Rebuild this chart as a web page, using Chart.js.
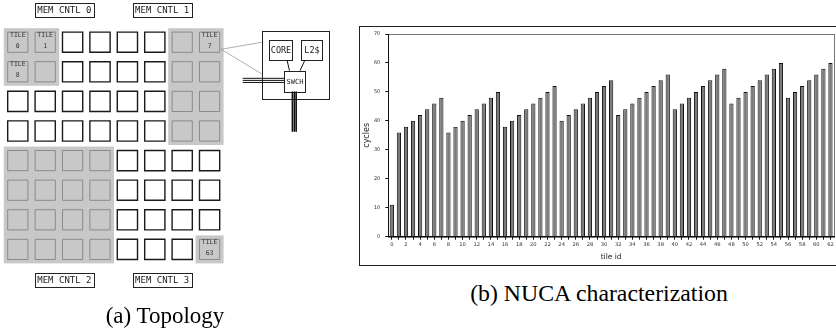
<!DOCTYPE html>
<html>
<head>
<meta charset="utf-8">
<script src="https://cdn.jsdelivr.net/npm/chart.js@4.4.1/dist/chart.umd.min.js"></script>
<style>
  html, body { margin: 0; padding: 0; background: #fff; width: 836px; height: 334px; overflow: hidden; }
  #frameB { position: absolute; left: 359px; top: 26px; width: 520px; height: 238px; border: 1px solid #222; }
  .caption { position: absolute; font-family: "Liberation Serif", serif; font-size: 23px; line-height: 23px; color: #000; text-align: center; white-space: nowrap; }
</style>
</head>
<body>
<canvas id="topology" width="340" height="334" style="position:absolute;left:0;top:0"></canvas>
<div id="frameB"></div>
<canvas id="nuca" width="477" height="239" style="position:absolute;left:359px;top:26px"></canvas>
<div class="caption" style="left:65px;top:304px;width:200px">(a) Topology</div>
<div class="caption" style="left:449px;top:282px;width:300px;font-size:23.8px">(b) NUCA characterization</div>
<script>
// ─── (b) NUCA characterization data ───────────────────────────
const tileIds = [
     0,  1,  2,  3,  4,  5,  6,  7,  8,  9, 10, 11, 12, 13, 14, 15,
    16, 17, 18, 19, 20, 21, 22, 23, 24, 25, 26, 27, 28, 29, 30, 31,
    32, 33, 34, 35, 36, 37, 38, 39, 40, 41, 42, 43, 44, 45, 46, 47,
    48, 49, 50, 51, 52, 53, 54, 55, 56, 57, 58, 59, 60, 61, 62
];
const cycles = [
    11, 36, 38, 40, 42, 44, 46, 48,
    36, 38, 40, 42, 44, 46, 48, 50,
    38, 40, 42, 44, 46, 48, 50, 52,
    40, 42, 44, 46, 48, 50, 52, 54,
    42, 44, 46, 48, 50, 52, 54, 56,
    44, 46, 48, 50, 52, 54, 56, 58,
    46, 48, 50, 52, 54, 56, 58, 60,
    48, 50, 52, 54, 56, 58, 60
];
const yTicks = [0, 10, 20, 30, 40, 50, 60, 70];

// ─── (a) Topology data (grid units: column / row) ─────────────
const gridCols     = [0, 1, 2, 3, 4, 5, 6, 7];
const gridRows     = [0, 1, 2, 3, 4, 5, 6, 7];
const shadedTiles  = [0, 1, 8, 9,
                      6, 7, 14, 15, 22, 23, 30, 31,
                      32, 33, 34, 35, 40, 41, 42, 43, 48, 49, 50, 51, 56, 57, 58, 59,
                      63];
const labelledTiles = [0, 1, 7, 8, 63];
// shaded groups: [firstCol, lastCol, firstRow, lastRow]
const shadedBlocks = [[0, 1, 0, 1], [6, 7, 0, 3], [0, 3, 4, 7], [7, 7, 7, 7]];

const memCtrlNames = ['MEM CNTL 0', 'MEM CNTL 1', 'MEM CNTL 2', 'MEM CNTL 3'];
const memCtrlCols  = [1.70, 5.27, 1.70, 5.27];
const memCtrlRows  = [-1.07, -1.07, 8.05, 8.05];

// tile detail: [label, colStart, colEnd, rowStart, rowEnd]
const detailParts = [
    ['',     8.90, 11.36, -0.378, 1.92],
    ['CORE', 9.18, 10.01, -0.074, 0.601],
    ['L2$', 10.32, 11.09, -0.074, 0.601],
    ['SWCH', 9.72, 10.49,  0.963, 1.672]
];
const wires = [
    [[8.21, 1.220], [9.72, 1.220]],
    [[8.21, 1.290], [9.72, 1.290]],
    [[8.21, 1.360], [9.72, 1.360]],
    [[10.02, 1.672], [10.02, 3.02]],
    [[10.09, 1.672], [10.09, 3.02]],
    [[10.16, 1.672], [10.16, 3.02]],
    [[9.825, 0.601], [9.916, 0.963]],
    [[10.48, 0.601], [10.30, 0.963]]
];
const leaders = [
    [[7.42, 0.24], [8.90, 0.003]],
    [[7.42, 0.24], [8.90, 1.07]]
];

const MONO = '"DejaVu Sans Mono", monospace';
const SANS = '"DejaVu Sans", sans-serif';

// ─── Topology chart ───────────────────────────────────────────
const tilePoints = [];
gridRows.forEach(r => gridCols.forEach(c => tilePoints.push({ x: c, y: r, id: r * 8 + c })));

const TILE_HALF = 10.5;   // px
const BLOCK_PAD = 3.5;    // px

const topologyPlugin = {
    id: 'topologyBoxes',
    beforeDatasetsDraw(chart) {
        const { ctx, scales: { x, y } } = chart;
        ctx.save();
        // shaded groups
        ctx.fillStyle = '#c8c8c8';
        shadedBlocks.forEach(([c0, c1, r0, r1]) => {
            const l = x.getPixelForValue(c0) - TILE_HALF - BLOCK_PAD;
            const r = x.getPixelForValue(c1) + TILE_HALF + BLOCK_PAD;
            const t = y.getPixelForValue(r0) - TILE_HALF - BLOCK_PAD;
            const b = y.getPixelForValue(r1) + TILE_HALF + BLOCK_PAD;
            ctx.fillRect(l, t, r - l, b - t);
        });
        // memory controllers
        ctx.lineWidth = 1;
        ctx.strokeStyle = '#222';
        ctx.font = '9px ' + MONO;
        ctx.textAlign = 'center';
        ctx.textBaseline = 'middle';
        memCtrlNames.forEach((name, i) => {
            const cx = x.getPixelForValue(memCtrlCols[i]);
            const cy = y.getPixelForValue(memCtrlRows[i]);
            ctx.fillStyle = '#fff';
            ctx.fillRect(cx - 29.5, cy - 7.2, 59, 14.4);
            ctx.strokeRect(Math.round(cx - 29.5) + 0.5, Math.round(cy - 7.2) + 0.5, 59, 14);
            ctx.fillStyle = '#222';
            ctx.fillText(name, cx, cy + 0.5);
        });
        // tile detail
        detailParts.forEach(([label, c0, c1, r0, r1]) => {
            const l = Math.round(x.getPixelForValue(c0)) + 0.5;
            const r = Math.round(x.getPixelForValue(c1)) + 0.5;
            const t = Math.round(y.getPixelForValue(r0)) + 0.5;
            const b = Math.round(y.getPixelForValue(r1)) + 0.5;
            ctx.fillStyle = '#fff';
            ctx.fillRect(l, t, r - l, b - t);
            ctx.strokeRect(l, t, r - l, b - t);
            if (label) {
                ctx.fillStyle = '#222';
                ctx.font = (label === 'SWCH' ? '7px ' : '8.5px ') + MONO;
                ctx.fillText(label, (l + r) / 2, (t + b) / 2 + 0.5);
            }
        });
        ctx.restore();
    },
    afterDatasetsDraw(chart) {
        const { ctx, scales: { x, y } } = chart;
        ctx.save();
        ctx.fillStyle = '#333';
        ctx.textAlign = 'center';
        ctx.textBaseline = 'middle';
        ctx.font = '6.5px ' + MONO;
        labelledTiles.forEach(id => {
            const cx = x.getPixelForValue(id % 8);
            const cy = y.getPixelForValue(Math.floor(id / 8));
            ctx.fillText('TILE', cx, cy - 7);
            ctx.fillText(String(id), cx, cy + 3.8);
        });
        ctx.restore();
    }
};

const lineSet = (seg, color, width) => ({
    data: seg.map(([px, py]) => ({ x: px, y: py })),
    showLine: true,
    borderColor: color,
    borderWidth: width,
    pointRadius: 0
});

new Chart(document.getElementById('topology').getContext('2d'), {
    type: 'scatter',
    data: {
        datasets: [
            {
                data: tilePoints,
                pointStyle: 'rect',
                pointRadius: 14.3,
                pointBorderWidth: c => shadedTiles.includes(c.raw.id) ? 1 : 1.4,
                pointBorderColor: c => shadedTiles.includes(c.raw.id) ? '#8a8a8a' : '#1a1a1a',
                pointBackgroundColor: c => shadedTiles.includes(c.raw.id) ? '#c8c8c8' : '#fff'
            },
            ...wires.map(s => lineSet(s, '#111', 1)),
            ...leaders.map(s => lineSet(s, '#999', 0.8))
        ]
    },
    options: {
        responsive: false,
        animation: false,
        events: [],
        layout: { padding: 0, autoPadding: false },
        plugins: { legend: { display: false }, tooltip: { enabled: false } },
        scales: {
            x: { type: 'linear', display: false, min: -0.6496, max: 11.759 },
            y: { type: 'linear', display: false, min: -1.4257, max: 9.858, reverse: true }
        }
    },
    plugins: [topologyPlugin]
});

// ─── NUCA bar chart ───────────────────────────────────────────
const plotFrame = {
    id: 'plotFrame',
    beforeDraw(chart) {
        const { ctx, chartArea: a } = chart;
        ctx.save();
        ctx.strokeStyle = '#777';
        ctx.lineWidth = 1;
        ctx.strokeRect(Math.round(a.left) + 0.5, Math.round(a.top) + 0.5,
                       Math.round(a.right - a.left), Math.round(a.bottom - a.top));
        ctx.restore();
    }
};

new Chart(document.getElementById('nuca').getContext('2d'), {
    type: 'bar',
    data: {
        labels: tileIds,
        datasets: [{
            data: cycles,
            backgroundColor: '#7a7a7a',
            borderColor: '#111',
            borderWidth: 1,
            barPercentage: 0.6,
            categoryPercentage: 1
        }]
    },
    options: {
        responsive: false,
        animation: false,
        events: [],
        layout: { padding: { top: 7.3, right: 2, left: 0, bottom: 0 } },
        plugins: { legend: { display: false }, tooltip: { enabled: false } },
        scales: {
            x: {
                grid:  { display: true, drawOnChartArea: false, offset: false, tickLength: 3, color: '#111' },
                border: { color: '#111', width: 1 },
                ticks: {
                    autoSkip: false, maxRotation: 0, minRotation: 0, padding: 1.5,
                    color: '#333', font: { family: SANS, size: 5.2 },
                    callback: (v, i) => i % 2 ? '' : String(tileIds[i])
                },
                title: { display: true, text: 'tile id', color: '#222',
                         font: { family: SANS, size: 7.5 }, padding: { top: 0, bottom: 3.5 } },
                afterFit: s => { s.height = 28.3; }
            },
            y: {
                min: 0, max: 70,
                afterBuildTicks: s => { s.ticks = yTicks.map(v => ({ value: v })); },
                grid:  { display: true, drawOnChartArea: false, tickLength: 3, color: '#111' },
                border: { color: '#111', width: 1 },
                ticks: { padding: 5, color: '#333', font: { family: SANS, size: 5 } },
                title: { display: true, text: 'cycles', color: '#222',
                         font: { family: SANS, size: 8 }, padding: { top: 3, bottom: 0 } },
                afterFit: s => { s.width = 29.3; }
            }
        }
    },
    plugins: [plotFrame]
});
</script>
</body>
</html>
